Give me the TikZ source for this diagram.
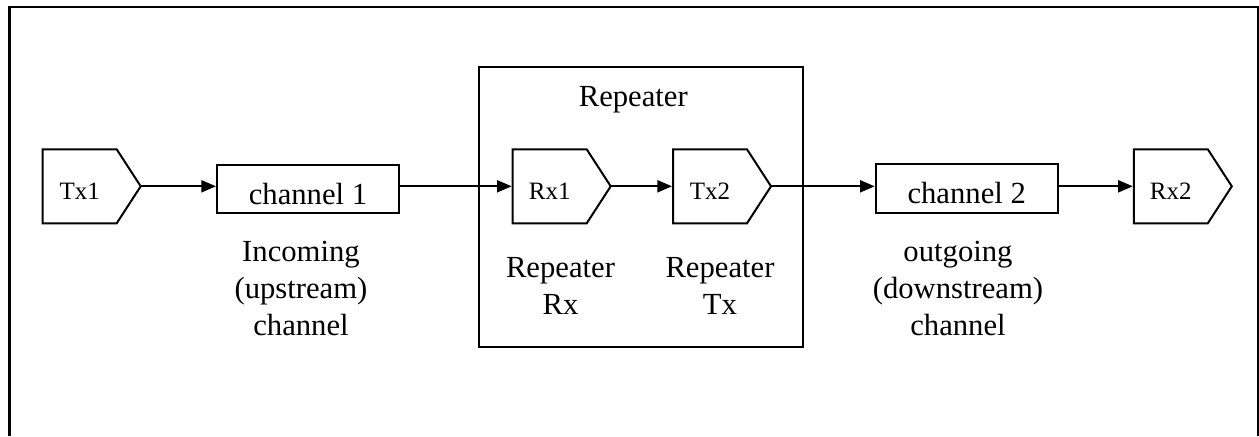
\documentclass[tikz,border=0pt]{standalone}
\usepackage{fontspec}
\setmainfont{Liberation Serif}
\usetikzlibrary{arrows.meta,calc}
\newcommand\drawpentagon[1]{%
  \coordinate (#1tip) at ([xshift=18pt]#1.east);
  \draw[pentline] (#1.north west) -- (#1.north east) -- (#1tip) -- (#1.south east) -- (#1.south west) -- cycle;}
\begin{document}
\begin{tikzpicture}[x=0.75pt,y=-0.75pt,
  mainfont/.style={font=\fontsize{23}{27.75}\selectfont},
  pentbody/.style={minimum width=55.5pt, minimum height=55.5pt, inner sep=0pt, outer sep=0pt,
    font=\fontsize{18.75}{22}\selectfont, text height=19.5pt, text depth=0pt},
  pentline/.style={line width=1.5pt, line join=miter},
  chan/.style={draw, line width=1.5pt, minimum width=136.5pt, minimum height=36.5pt, inner sep=0pt,
    mainfont, text height=22.5pt, text depth=0pt},
  group/.style={draw, line width=1.5pt, minimum width=243pt, minimum height=209.5pt, inner sep=0pt},
  conn/.style={line width=1.5pt, -{Triangle[length=11pt,width=9pt]}},
  topent/.style={shorten >=0.75pt},
  lbl/.style={align=center, anchor=base, mainfont, inner sep=0pt},
  frame/.style={line width=1.75pt}
]
\useasboundingbox (0,0) rectangle (1259,436);
% outer frame (open at the bottom)
\coordinate (fbl) at (9.5,436);
\coordinate (ftl) at (9.5,6.8);
\coordinate (ftr) at (1257.7,6.8);
\coordinate (fbr) at (1257.7,436);
\draw[frame] (fbl) -- (ftl) -- (ftr) -- (fbr);

% repeater group
\node[group] (rep) at (641.3,207) {};
\node[lbl] (reptitle) at (633.3,106.7) {Repeater};

% blocks
\node[pentbody] (tx1) at (79.7,186.3) {Tx1};
\drawpentagon{tx1}
\node[chan] (ch1) at (308,189) {channel 1};
\node[pentbody] (rx1) at (549.7,186.3) {Rx1};
\drawpentagon{rx1}
\node[pentbody] (tx2) at (710,186.3) {Tx2};
\drawpentagon{tx2}
\node[chan] (ch2) at (966.7,188.3) {channel 2};
\node[pentbody] (rx2) at (1170.8,186.3) {Rx2};
\drawpentagon{rx2}

% connectors
\draw[conn] (tx1tip) -- (tx1tip -| ch1.west);
\draw[conn,topent] (rx1.west -| ch1.east) -- (rx1.west);
\draw[conn,topent] (rx1tip) -- (tx2.west);
\draw[conn] (tx2tip) -- (tx2tip -| ch2.west);
\draw[conn,topent] (rx2.west -| ch2.east) -- (rx2.west);

% labels (anchor base = baseline of the last line)
\node[lbl] (inlbl) at (301,335.5) {Incoming\\(upstream)\\channel};
\node[lbl] (rxlbl) at (560.5,314) {Repeater\\Rx};
\node[lbl] (txlbl) at (720,314) {Repeater\\Tx};
\node[lbl] (outlbl) at (958,335.5) {outgoing\\(downstream)\\channel};
\end{tikzpicture}
\end{document}
